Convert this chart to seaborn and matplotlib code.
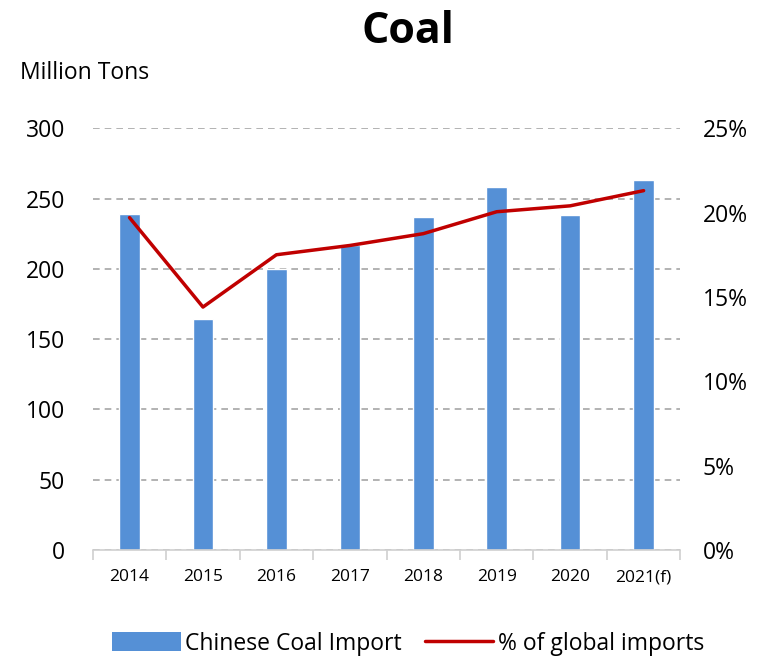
"""
Chinese coal imports vs share of global imports.
"""
import pandas as pd
import matplotlib.pyplot as plt
import matplotlib.ticker as mticker
from matplotlib.patches import Patch
from matplotlib.lines import Line2D
import seaborn as sns

years = ['2014', '2015', '2016', '2017', '2018', '2019', '2020', '2021(f)']
coal_import = [239, 164, 200, 217, 237, 258, 238, 263]
global_share = [19.7, 14.4, 17.5, 18.05, 18.75, 20.05, 20.4, 21.3]

BAR_COLOR = '#5590d6'
LINE_COLOR = '#c00000'


def plot():
    sns.set_theme(style='white')
    plt.rcParams['font.family'] = ['Open Sans', 'DejaVu Sans']
    plt.rcParams['text.color'] = 'black'
    plt.rcParams['xtick.color'] = 'black'
    plt.rcParams['ytick.color'] = 'black'

    data = pd.DataFrame({'Year': years, 'Import': coal_import, 'Share': global_share})

    fig = plt.figure(figsize=(7.67, 6.61), dpi=100)
    ax = fig.add_axes([0.121, 0.168, 0.766, 0.638])

    sns.barplot(data=data, x='Year', y='Import', color=BAR_COLOR,
                width=0.28, saturation=1, ax=ax)

    ax.set_ylim(0, 300)
    ax.set_yticks(range(0, 301, 50))
    ax.set_xlim(-0.5, len(years) - 0.5)
    ax.yaxis.grid(True, color='#a6a6a6', linestyle=(0, (4, 3)), linewidth=1.2)
    ax.set_axisbelow(True)
    for side in ['left', 'right', 'top']:
        ax.spines[side].set_visible(False)
    ax.spines['bottom'].set_color('#d0d0d0')
    ax.spines['bottom'].set_linewidth(1.2)
    ax.set_xlabel('')
    ax.set_ylabel('')
    ax.tick_params(axis='y', labelsize=16.5, length=0, pad=20)
    ax.tick_params(axis='x', which='major', labelsize=12.5, length=0, pad=14)
    ax.set_xticks([i - 0.5 for i in range(len(years) + 1)], minor=True)
    ax.tick_params(axis='x', which='minor', length=7, color='#d0d0d0', width=1.2,
                   bottom=True)

    ax2 = ax.twinx()
    sns.lineplot(data=data, x='Year', y='Share', color=LINE_COLOR,
                 linewidth=2.5, ax=ax2)
    ax2.set_ylim(0, 25)
    ax2.set_yticks(range(0, 26, 5))
    ax2.yaxis.set_major_formatter(mticker.FuncFormatter(lambda v, p: f'{v:.0f}%'))
    ax2.tick_params(axis='y', labelsize=16.5, length=0, pad=16)
    ax2.set_ylabel('')
    for side in ['left', 'right', 'top', 'bottom']:
        ax2.spines[side].set_visible(False)

    fig.text(0.532, 0.953, 'Coal', ha='center', va='center',
             fontsize=31, fontweight='bold')
    fig.text(0.026, 0.89, 'Million Tons', ha='left', va='center', fontsize=16.5)

    handles = [
        Patch(facecolor=BAR_COLOR, edgecolor='none'),
        Line2D([0], [0], color=LINE_COLOR, linewidth=2.5),
    ]
    fig.legend(handles, ['Chinese Coal Import', '% of global imports'],
               loc='center', bbox_to_anchor=(0.532, 0.026), ncol=2,
               frameon=False, fontsize=16.5, handlelength=3.0,
               handleheight=0.9, handletextpad=0.2, columnspacing=1.0)

    fig.savefig('out.png', dpi=100)


if __name__ == '__main__':
    plot()
